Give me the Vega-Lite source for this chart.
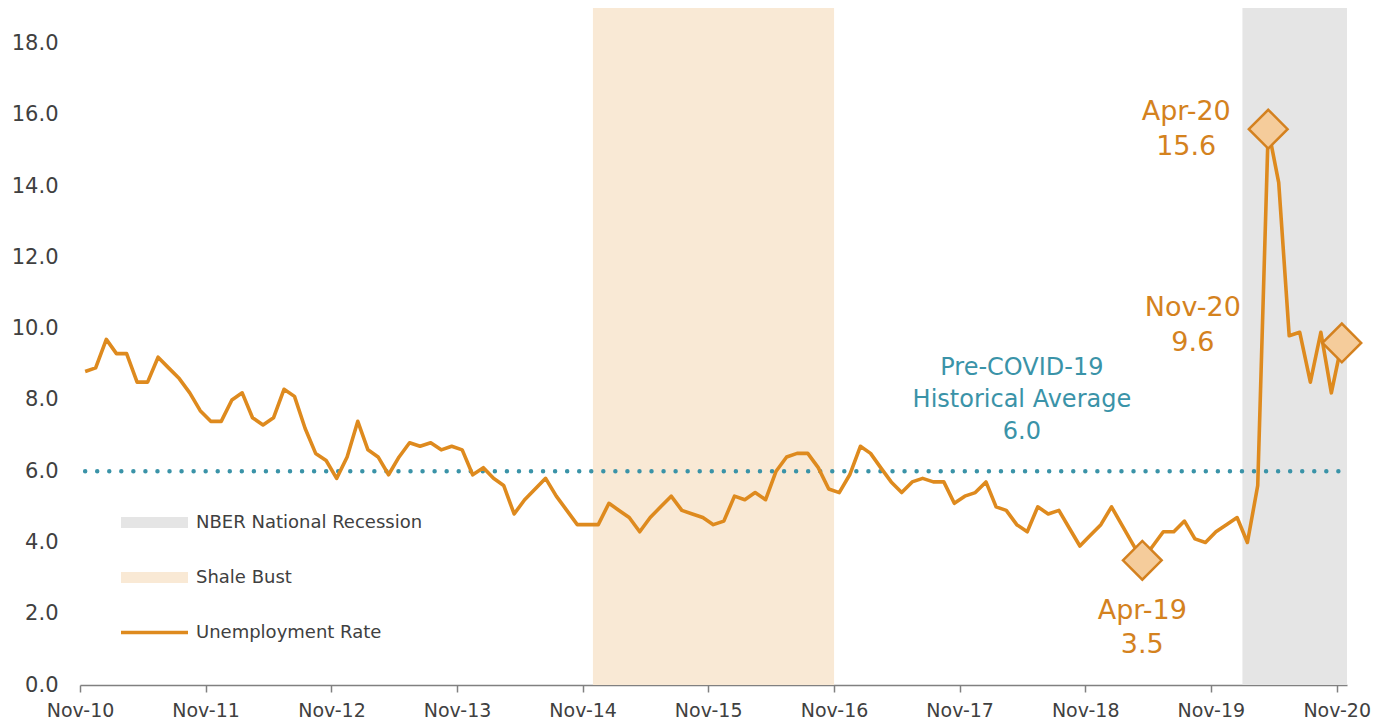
{
  "$schema": "https://vega.github.io/schema/vega-lite/v6.json",
  "width": 1267,
  "height": 677,
  "autosize": {"type": "none"},
  "padding": {"left": 80, "top": 8, "right": 53, "bottom": 39},
  "background": "white",
  "config": {
    "view": {"stroke": null},
    "font": "DejaVu Sans",
    "axis": {"labelFont": "DejaVu Sans", "labelColor": "#404040", "title": null, "grid": false}
  },
  "datasets": {
    "rate": [
      {"month": "2010-11", "rate": 8.8}, {"month": "2010-12", "rate": 8.9},
      {"month": "2011-01", "rate": 9.7}, {"month": "2011-02", "rate": 9.3}, {"month": "2011-03", "rate": 9.3}, {"month": "2011-04", "rate": 8.5},
      {"month": "2011-05", "rate": 8.5}, {"month": "2011-06", "rate": 9.2}, {"month": "2011-07", "rate": 8.9}, {"month": "2011-08", "rate": 8.6},
      {"month": "2011-09", "rate": 8.2}, {"month": "2011-10", "rate": 7.7}, {"month": "2011-11", "rate": 7.4}, {"month": "2011-12", "rate": 7.4},
      {"month": "2012-01", "rate": 8.0}, {"month": "2012-02", "rate": 8.2}, {"month": "2012-03", "rate": 7.5}, {"month": "2012-04", "rate": 7.3},
      {"month": "2012-05", "rate": 7.5}, {"month": "2012-06", "rate": 8.3}, {"month": "2012-07", "rate": 8.1}, {"month": "2012-08", "rate": 7.2},
      {"month": "2012-09", "rate": 6.5}, {"month": "2012-10", "rate": 6.3}, {"month": "2012-11", "rate": 5.8}, {"month": "2012-12", "rate": 6.4},
      {"month": "2013-01", "rate": 7.4}, {"month": "2013-02", "rate": 6.6}, {"month": "2013-03", "rate": 6.4}, {"month": "2013-04", "rate": 5.9},
      {"month": "2013-05", "rate": 6.4}, {"month": "2013-06", "rate": 6.8}, {"month": "2013-07", "rate": 6.7}, {"month": "2013-08", "rate": 6.8},
      {"month": "2013-09", "rate": 6.6}, {"month": "2013-10", "rate": 6.7}, {"month": "2013-11", "rate": 6.6}, {"month": "2013-12", "rate": 5.9},
      {"month": "2014-01", "rate": 6.1}, {"month": "2014-02", "rate": 5.8}, {"month": "2014-03", "rate": 5.6}, {"month": "2014-04", "rate": 4.8},
      {"month": "2014-05", "rate": 5.2}, {"month": "2014-06", "rate": 5.5}, {"month": "2014-07", "rate": 5.8}, {"month": "2014-08", "rate": 5.3},
      {"month": "2014-09", "rate": 4.9}, {"month": "2014-10", "rate": 4.5}, {"month": "2014-11", "rate": 4.5}, {"month": "2014-12", "rate": 4.5},
      {"month": "2015-01", "rate": 5.1}, {"month": "2015-02", "rate": 4.9}, {"month": "2015-03", "rate": 4.7}, {"month": "2015-04", "rate": 4.3},
      {"month": "2015-05", "rate": 4.7}, {"month": "2015-06", "rate": 5.0}, {"month": "2015-07", "rate": 5.3}, {"month": "2015-08", "rate": 4.9},
      {"month": "2015-09", "rate": 4.8}, {"month": "2015-10", "rate": 4.7}, {"month": "2015-11", "rate": 4.5}, {"month": "2015-12", "rate": 4.6},
      {"month": "2016-01", "rate": 5.3}, {"month": "2016-02", "rate": 5.2}, {"month": "2016-03", "rate": 5.4}, {"month": "2016-04", "rate": 5.2},
      {"month": "2016-05", "rate": 6.0}, {"month": "2016-06", "rate": 6.4}, {"month": "2016-07", "rate": 6.5}, {"month": "2016-08", "rate": 6.5},
      {"month": "2016-09", "rate": 6.1}, {"month": "2016-10", "rate": 5.5}, {"month": "2016-11", "rate": 5.4}, {"month": "2016-12", "rate": 5.9},
      {"month": "2017-01", "rate": 6.7}, {"month": "2017-02", "rate": 6.5}, {"month": "2017-03", "rate": 6.1}, {"month": "2017-04", "rate": 5.7},
      {"month": "2017-05", "rate": 5.4}, {"month": "2017-06", "rate": 5.7}, {"month": "2017-07", "rate": 5.8}, {"month": "2017-08", "rate": 5.7},
      {"month": "2017-09", "rate": 5.7}, {"month": "2017-10", "rate": 5.1}, {"month": "2017-11", "rate": 5.3}, {"month": "2017-12", "rate": 5.4},
      {"month": "2018-01", "rate": 5.7}, {"month": "2018-02", "rate": 5.0}, {"month": "2018-03", "rate": 4.9}, {"month": "2018-04", "rate": 4.5},
      {"month": "2018-05", "rate": 4.3}, {"month": "2018-06", "rate": 5.0}, {"month": "2018-07", "rate": 4.8}, {"month": "2018-08", "rate": 4.9},
      {"month": "2018-09", "rate": 4.4}, {"month": "2018-10", "rate": 3.9}, {"month": "2018-11", "rate": 4.2}, {"month": "2018-12", "rate": 4.5},
      {"month": "2019-01", "rate": 5.0}, {"month": "2019-02", "rate": 4.5}, {"month": "2019-03", "rate": 4.0}, {"month": "2019-04", "rate": 3.5},
      {"month": "2019-05", "rate": 3.9}, {"month": "2019-06", "rate": 4.3}, {"month": "2019-07", "rate": 4.3}, {"month": "2019-08", "rate": 4.6},
      {"month": "2019-09", "rate": 4.1}, {"month": "2019-10", "rate": 4.0}, {"month": "2019-11", "rate": 4.3}, {"month": "2019-12", "rate": 4.5},
      {"month": "2020-01", "rate": 4.7}, {"month": "2020-02", "rate": 4.0}, {"month": "2020-03", "rate": 5.6}, {"month": "2020-04", "rate": 15.6},
      {"month": "2020-05", "rate": 14.1}, {"month": "2020-06", "rate": 9.8}, {"month": "2020-07", "rate": 9.9}, {"month": "2020-08", "rate": 8.5},
      {"month": "2020-09", "rate": 9.9}, {"month": "2020-10", "rate": 8.2}, {"month": "2020-11", "rate": 9.6}
    ],
    "periods": [
      {"series": "Shale Bust", "start": "2014-12-01", "end": "2016-11-01"},
      {"series": "NBER National Recession", "start": "2020-02-01", "end": "2020-12-01"}
    ],
    "average": [
      {"from": "2010-11-16", "to": "2020-11-15", "avg": 6.0}
    ],
    "highlights": [
      {"month": "2019-04", "rate": 3.5, "text": "Apr-19\n3.5"},
      {"month": "2020-04", "rate": 15.6, "text": "Apr-20\n15.6"},
      {"month": "2020-11", "rate": 9.6, "text": "Nov-20\n9.6"}
    ],
    "note": [
      {"month": "2018-05", "rate": 6.0, "text": "Pre-COVID-19\nHistorical Average\n6.0"}
    ]
  },
  "layer": [
    {
      "data": {"name": "periods"},
      "mark": {"type": "rect"},
      "encoding": {
        "x": {
          "field": "start", "type": "temporal",
          "scale": {"type": "utc", "domain": [{"year": 2010, "month": 11, "date": 1, "utc": true}, {"year": 2020, "month": 12, "date": 1, "utc": true}]},
          "axis": {
            "values": [
              {"year": 2010, "month": 11, "date": 1, "utc": true}, {"year": 2011, "month": 11, "date": 1, "utc": true},
              {"year": 2012, "month": 11, "date": 1, "utc": true}, {"year": 2013, "month": 11, "date": 1, "utc": true},
              {"year": 2014, "month": 11, "date": 1, "utc": true}, {"year": 2015, "month": 11, "date": 1, "utc": true},
              {"year": 2016, "month": 11, "date": 1, "utc": true}, {"year": 2017, "month": 11, "date": 1, "utc": true},
              {"year": 2018, "month": 11, "date": 1, "utc": true}, {"year": 2019, "month": 11, "date": 1, "utc": true},
              {"year": 2020, "month": 11, "date": 1, "utc": true}
            ],
            "format": "%b-%y",
            "labelFontSize": 19,
            "labelPadding": 9,
            "tickSize": 7,
            "tickColor": "#808080",
            "tickWidth": 1.5,
            "domainColor": "#808080",
            "domainWidth": 1.5,
            "labelFlush": false,
            "labelOverlap": false
          }
        },
        "x2": {"field": "end"},
        "color": {
          "field": "series", "type": "nominal",
          "scale": {"domain": ["NBER National Recession", "Shale Bust", "Unemployment Rate"], "range": ["#e5e5e5", "#f9e9d5", "#de8a1e"]},
          "legend": {
            "title": null,
            "orient": "none",
            "legendX": 41,
            "legendY": 481,
            "symbolType": "M-1,-0.164H1V0.164H-1Z",
            "symbolSize": 4489,
            "symbolStrokeWidth": 0,
            "labelFont": "DejaVu Sans",
            "labelFontSize": 18,
            "labelColor": "#404040",
            "labelOffset": 8,
            "labelLimit": 400,
            "rowPadding": 12,
            "encode": {
              "symbols": {
                "update": {
                  "fill": {"scale": "color", "field": "value"},
                  "stroke": {"value": "transparent"},
                  "shape": {"signal": "datum.value === 'Unemployment Rate' ? 'M-1,-0.055H1V0.055H-1Z' : 'M-1,-0.164H1V0.164H-1Z'"}
                }
              }
            }
          }
        }
      }
    },
    {
      "data": {"name": "average"},
      "mark": {"type": "rule", "color": "#3a93a8", "strokeWidth": 4.5, "strokeDash": [0, 12.05], "strokeCap": "round"},
      "encoding": {
        "x": {"field": "from", "type": "temporal", "scale": {"type": "utc"}},
        "x2": {"field": "to"},
        "y": {
          "field": "avg", "type": "quantitative",
          "scale": {"domain": [0, 19], "nice": false},
          "axis": {"values": [0, 2, 4, 6, 8, 10, 12, 14, 16, 18], "format": ".1f", "labelFontSize": 21, "domain": false, "ticks": false, "labelPadding": 22}
        }
      }
    },
    {
      "data": {"name": "rate"},
      "mark": {"type": "line", "strokeWidth": 3.6, "strokeJoin": "round"},
      "encoding": {
        "x": {"field": "month", "type": "temporal", "timeUnit": "utcyearmonth", "bandPosition": 0.5, "scale": {"type": "utc"}},
        "y": {"field": "rate", "type": "quantitative"},
        "color": {"datum": "Unemployment Rate", "type": "nominal"}
      }
    },
    {
      "data": {"name": "highlights"},
      "mark": {"type": "point", "shape": "diamond", "filled": true, "size": 1500, "fill": "#f5cc9b", "stroke": "#d4811f", "strokeWidth": 2.5, "opacity": 1},
      "encoding": {
        "x": {"field": "month", "type": "temporal", "timeUnit": "utcyearmonth", "bandPosition": 0.5, "scale": {"type": "utc"}},
        "y": {"field": "rate", "type": "quantitative"}
      }
    },
    {
      "data": {"name": "highlights"},
      "transform": [{"filter": "datum.rate === 15.6"}],
      "mark": {"type": "text", "lineBreak": "\n", "fontSize": 27, "lineHeight": 35, "color": "#d4821e", "align": "center", "baseline": "middle", "dx": -82, "dy": -17},
      "encoding": {
        "x": {"field": "month", "type": "temporal", "timeUnit": "utcyearmonth", "bandPosition": 0.5, "scale": {"type": "utc"}},
        "y": {"field": "rate", "type": "quantitative"},
        "text": {"field": "text", "type": "nominal"}
      }
    },
    {
      "data": {"name": "highlights"},
      "transform": [{"filter": "datum.rate === 9.6"}],
      "mark": {"type": "text", "lineBreak": "\n", "fontSize": 27, "lineHeight": 35, "color": "#d4821e", "align": "center", "baseline": "middle", "dx": -149, "dy": -35},
      "encoding": {
        "x": {"field": "month", "type": "temporal", "timeUnit": "utcyearmonth", "bandPosition": 0.5, "scale": {"type": "utc"}},
        "y": {"field": "rate", "type": "quantitative"},
        "text": {"field": "text", "type": "nominal"}
      }
    },
    {
      "data": {"name": "highlights"},
      "transform": [{"filter": "datum.rate === 3.5"}],
      "mark": {"type": "text", "lineBreak": "\n", "fontSize": 27, "lineHeight": 34, "color": "#d4821e", "align": "center", "baseline": "middle", "dx": 0, "dy": 51},
      "encoding": {
        "x": {"field": "month", "type": "temporal", "timeUnit": "utcyearmonth", "bandPosition": 0.5, "scale": {"type": "utc"}},
        "y": {"field": "rate", "type": "quantitative"},
        "text": {"field": "text", "type": "nominal"}
      }
    },
    {
      "data": {"name": "note"},
      "mark": {"type": "text", "lineBreak": "\n", "fontSize": 24, "lineHeight": 32, "color": "#3a93a8", "align": "center", "baseline": "middle", "dx": 0, "dy": -103},
      "encoding": {
        "x": {"field": "month", "type": "temporal", "timeUnit": "utcyearmonth", "bandPosition": 0, "scale": {"type": "utc"}},
        "y": {"field": "rate", "type": "quantitative"},
        "text": {"field": "text", "type": "nominal"}
      }
    }
  ]
}
